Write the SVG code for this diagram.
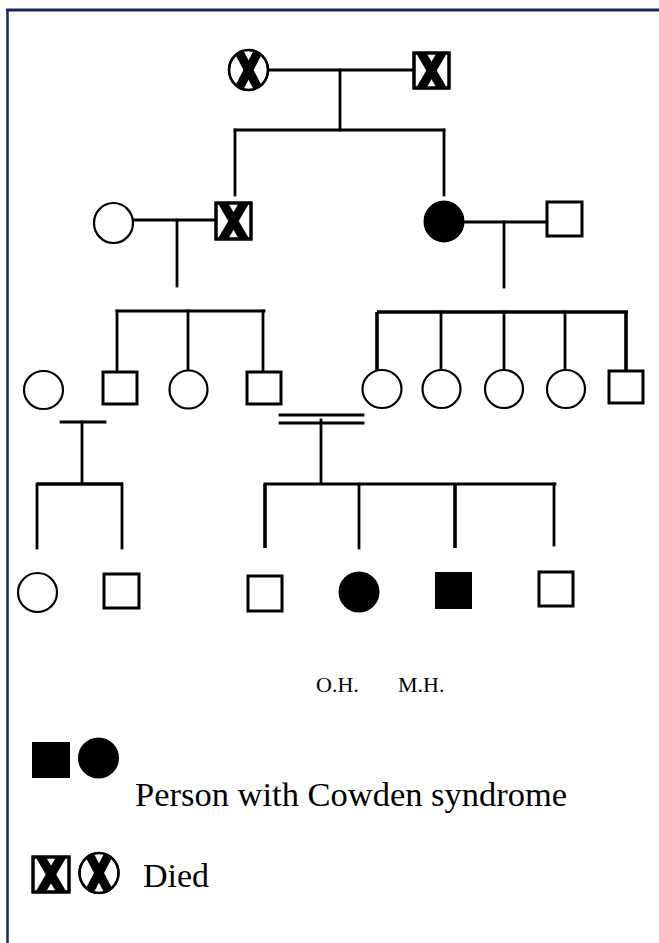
<svg xmlns="http://www.w3.org/2000/svg" width="659" height="943" viewBox="0 0 659 943">
<style>
.ln{stroke:#000;stroke-width:2.8;fill:none;stroke-linecap:square}
.thk{stroke:#000;stroke-width:3.6;fill:none}
.o{fill:#fff;stroke:#000;stroke-width:2.2}
.sq{fill:#fff;stroke:#000;stroke-width:3}
.f{fill:#000;stroke:#000;stroke-width:2}
.x{stroke:#000;stroke-width:9;stroke-linecap:butt}
.t{font-family:"Liberation Serif","Times New Roman",serif;fill:#000}
.bd{stroke:#16275c;fill:none}
</style>
<defs>
<clipPath id="cs"><rect x="0" y="0" width="35" height="35"/></clipPath>
<clipPath id="cc"><ellipse cx="0" cy="0" rx="19.5" ry="20"/></clipPath>
</defs>
<g id="border">
<line class="bd" x1="6" y1="10" x2="659" y2="10" stroke-width="3"/>
<line class="bd" x1="7.5" y1="9" x2="7.5" y2="943" stroke-width="2.5"/>
</g>
<g id="connectors">
<line class="ln" x1="268" y1="70" x2="414" y2="70"/>
<line class="ln" x1="340" y1="70" x2="340" y2="130"/>
<line class="ln" x1="235" y1="130" x2="444" y2="130"/>
<line class="ln" x1="235" y1="130" x2="235" y2="195"/>
<line class="ln" x1="444" y1="130" x2="444" y2="195"/>
<line class="ln" x1="133" y1="220" x2="216" y2="220"/>
<line class="ln" x1="177" y1="220" x2="177" y2="286"/>
<line class="ln" x1="464" y1="222" x2="547" y2="222"/>
<line class="ln" x1="504" y1="222" x2="504" y2="287"/>
<line class="ln" x1="117" y1="311" x2="264" y2="311"/>
<line class="ln" x1="117" y1="311" x2="117" y2="372"/>
<line class="ln" x1="188" y1="311" x2="188" y2="371"/>
<line class="ln" x1="263" y1="311" x2="263" y2="372"/>
<line class="thk" x1="377" y1="312" x2="628" y2="312"/>
<line class="thk" x1="377" y1="312" x2="377" y2="371"/>
<line class="ln" x1="441" y1="312" x2="441" y2="371"/>
<line class="ln" x1="504" y1="312" x2="504" y2="371"/>
<line class="ln" x1="565" y1="312" x2="565" y2="371"/>
<line class="thk" x1="626" y1="312" x2="626" y2="370"/>
<line class="ln" x1="280" y1="415" x2="363" y2="415"/>
<line class="ln" x1="280" y1="423" x2="363" y2="423"/>
<line class="ln" x1="321" y1="420" x2="321" y2="483"/>
<line class="ln" x1="61" y1="422" x2="105" y2="422"/>
<line class="ln" x1="82" y1="422" x2="82" y2="483"/>
<line class="thk" x1="37" y1="484" x2="123" y2="484"/>
<line class="ln" x1="37" y1="484" x2="37" y2="548"/>
<line class="ln" x1="122" y1="484" x2="122" y2="548"/>
<line class="ln" x1="265" y1="484" x2="555" y2="484"/>
<line class="thk" x1="265" y1="484" x2="265" y2="548"/>
<line class="ln" x1="359" y1="484" x2="359" y2="548"/>
<line class="thk" x1="455" y1="484" x2="455" y2="548"/>
<line class="ln" x1="554" y1="484" x2="554" y2="545"/>
</g>
<g id="g1-mother">
<ellipse class="o" cx="248.5" cy="70" rx="19.5" ry="20"/>
<g transform="translate(248.5,70)" clip-path="url(#cc)"><line class="x" x1="-11" y1="-21" x2="11" y2="21"/><line class="x" x1="11" y1="-21" x2="-11" y2="21"/></g>
<ellipse cx="248.5" cy="70" rx="19.5" ry="20" fill="none" stroke="#000" stroke-width="2.5"/>
</g>
<g id="g1-father">
<rect class="sq" x="414" y="53" width="35" height="35"/>
<g transform="translate(414,53)" clip-path="url(#cs)"><line class="x" x1="6" y1="-2" x2="29" y2="37"/><line class="x" x1="29" y1="-2" x2="6" y2="37"/></g>
<rect x="414" y="53" width="35" height="35" fill="none" stroke="#000" stroke-width="3"/>
</g>
<g id="g2-wife"><ellipse class="o" cx="113.5" cy="223" rx="19.5" ry="20"/></g>
<g id="g2-son">
<rect class="sq" x="216" y="203" width="35" height="36"/>
<g transform="translate(216,203.5)" clip-path="url(#cs)"><line class="x" x1="6" y1="-2" x2="29" y2="37"/><line class="x" x1="29" y1="-2" x2="6" y2="37"/></g>
<rect x="216" y="203" width="35" height="36" fill="none" stroke="#000" stroke-width="3"/>
</g>
<g id="g2-daughter"><ellipse class="f" cx="444" cy="221.5" rx="19.5" ry="20"/></g>
<g id="g2-husband"><rect class="sq" x="547" y="202" width="35" height="34"/></g>
<g id="g3-1"><ellipse class="o" cx="43.5" cy="390" rx="19.5" ry="19"/></g>
<g id="g3-2"><rect class="sq" x="103" y="372" width="34" height="32"/></g>
<g id="g3-3"><ellipse class="o" cx="188.5" cy="389.5" rx="19" ry="19"/></g>
<g id="g3-4"><rect class="sq" x="247" y="372" width="34" height="32"/></g>
<g id="g3-5"><ellipse class="o" cx="382" cy="389" rx="19.5" ry="19"/></g>
<g id="g3-6"><ellipse class="o" cx="441.5" cy="389" rx="19" ry="19"/></g>
<g id="g3-7"><ellipse class="o" cx="504" cy="389" rx="19" ry="19"/></g>
<g id="g3-8"><ellipse class="o" cx="566" cy="389" rx="19" ry="19"/></g>
<g id="g3-9"><rect class="sq" x="609" y="371" width="34" height="32" stroke-width="3.5"/></g>
<g id="g4-1"><ellipse class="o" cx="37.5" cy="592.5" rx="19.5" ry="19.5"/></g>
<g id="g4-2"><rect class="sq" x="104" y="574" width="35" height="34"/></g>
<g id="g4-3"><rect class="sq" x="248" y="576" width="34" height="35"/></g>
<g id="g4-4"><ellipse class="f" cx="359" cy="592" rx="19.5" ry="19.5"/></g>
<g id="g4-5"><rect class="f" x="436" y="573" width="35" height="35"/></g>
<g id="g4-6"><rect class="sq" x="539" y="572" width="34" height="34"/></g>
<g id="labels">
<text class="t" x="316" y="692" font-size="22">O.H.</text>
<text class="t" x="398" y="692" font-size="22">M.H.</text>
</g>
<g id="legend">
<rect class="f" x="33" y="743" width="36" height="34"/>
<ellipse class="f" cx="98.5" cy="758" rx="19.5" ry="19.5"/>
<text class="t" x="135" y="806" font-size="34.5">Person with Cowden syndrome</text>
<rect class="sq" x="33" y="857" width="36" height="35"/>
<g transform="translate(33.5,857)" clip-path="url(#cs)"><line class="x" x1="6" y1="-2" x2="29" y2="37"/><line class="x" x1="29" y1="-2" x2="6" y2="37"/></g>
<rect x="33" y="857" width="36" height="35" fill="none" stroke="#000" stroke-width="3"/>
<ellipse class="o" cx="99" cy="873" rx="19.5" ry="20"/>
<g transform="translate(99,873)" clip-path="url(#cc)"><line class="x" x1="-11" y1="-21" x2="11" y2="21"/><line class="x" x1="11" y1="-21" x2="-11" y2="21"/></g>
<ellipse cx="99" cy="873" rx="19.5" ry="20" fill="none" stroke="#000" stroke-width="2.5"/>
<text class="t" x="143" y="887" font-size="34">Died</text>
</g>
</svg>
